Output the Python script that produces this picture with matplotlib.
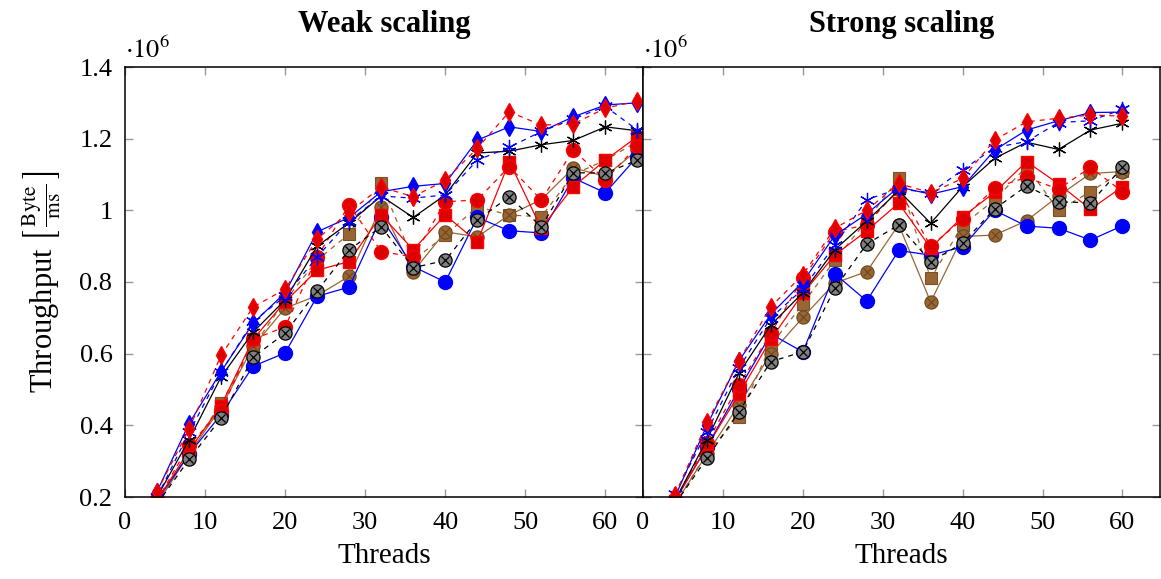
import numpy as np
import matplotlib
matplotlib.use("Agg")
import matplotlib.pyplot as plt
from matplotlib.ticker import FuncFormatter

plt.rcParams['font.family'] = ['Liberation Serif', 'DejaVu Serif']
plt.rcParams['mathtext.fontset'] = 'stix'

# thread counts
threads_weak = [4, 8, 12, 16, 20, 24, 28, 32, 36, 40, 44, 48, 52, 56, 60, 64]
threads_strong = [4, 8, 12, 16, 20, 24, 28, 32, 36, 40, 44, 48, 52, 56, 60]

# weak scaling throughput (x 1e6 Byte/ms)
weak_blue_circle = [0.19, 0.32, 0.43, 0.565, 0.602, 0.76, 0.786, 0.98, 0.843, 0.80, 0.98, 0.943, 0.937, 1.09, 1.049, 1.15]
weak_blue_diamond = [0.215, 0.405, 0.55, 0.685, 0.77, 0.94, 0.98, 1.052, 1.067, 1.075, 1.196, 1.233, 1.22, 1.261, 1.294, 1.30]
weak_blue_star = [0.2, 0.38, 0.549, 0.69, 0.76, 0.87, 0.97, 1.04, 1.034, 1.043, 1.14, 1.176, 1.22, 1.255, 1.29, 1.224]
weak_red_diamond = [0.215, 0.39, 0.595, 0.73, 0.78, 0.92, 0.995, 1.065, 1.038, 1.084, 1.173, 1.275, 1.238, 1.241, 1.285, 1.305]
weak_red_circle = [0.19, 0.345, 0.44, 0.64, 0.675, 0.87, 1.015, 0.885, 0.87, 1.024, 1.029, 1.122, 1.029, 1.168, 1.085, 1.18]
weak_red_square = [0.19, 0.33, 0.455, 0.64, 0.745, 0.833, 0.857, 0.987, 0.89, 0.987, 0.912, 1.136, 0.95, 1.066, 1.14, 1.206]
weak_black_star = [0.2, 0.36, 0.535, 0.66, 0.75, 0.9, 0.965, 1.04, 0.98, 1.043, 1.16, 1.165, 1.183, 1.195, 1.233, 1.222]
weak_gray_otimes = [0.18, 0.305, 0.42, 0.59, 0.657, 0.775, 0.89, 0.954, 0.84, 0.86, 0.973, 1.038, 0.954, 1.105, 1.104, 1.14]
weak_brown_otimes = [0.18, 0.32, 0.45, 0.62, 0.727, 0.762, 0.816, 1.01, 0.829, 0.94, 0.926, 0.987, 1.03, 1.118, 1.095, 1.168]
weak_brown_square = [0.18, 0.325, 0.462, 0.62, 0.748, 0.861, 0.934, 1.075, 0.861, 0.93, 1.01, 0.987, 0.982, 1.10, 1.14, 1.192]

# strong scaling throughput (x 1e6 Byte/ms)
strong_blue_circle = [0.19, 0.34, 0.5, 0.655, 0.605, 0.823, 0.747, 0.888, 0.875, 0.898, 1.0, 0.956, 0.95, 0.917, 0.957]
strong_blue_diamond = [0.2, 0.4, 0.58, 0.71, 0.8, 0.93, 0.99, 1.065, 1.045, 1.066, 1.168, 1.224, 1.25, 1.273, 1.274]
strong_blue_star = [0.208, 0.382, 0.56, 0.70, 0.78, 0.903, 1.03, 1.06, 1.049, 1.113, 1.175, 1.192, 1.245, 1.25, 1.282]
strong_red_diamond = [0.205, 0.408, 0.58, 0.731, 0.82, 0.95, 1.0, 1.075, 1.049, 1.089, 1.196, 1.247, 1.257, 1.266, 1.263]
strong_red_circle = [0.19, 0.351, 0.512, 0.657, 0.81, 0.94, 0.96, 1.06, 0.90, 0.975, 1.063, 1.092, 1.059, 1.12, 1.052]
strong_red_square = [0.19, 0.34, 0.487, 0.64, 0.768, 0.875, 0.943, 1.02, 0.895, 0.982, 1.05, 1.136, 1.074, 1.003, 1.066]
strong_black_star = [0.19, 0.36, 0.545, 0.68, 0.77, 0.89, 0.97, 1.055, 0.964, 1.066, 1.145, 1.19, 1.17, 1.224, 1.243]
strong_gray_otimes = [0.18, 0.308, 0.438, 0.578, 0.605, 0.782, 0.906, 0.959, 0.857, 0.908, 1.004, 1.068, 1.024, 1.021, 1.12]
strong_brown_otimes = [0.18, 0.32, 0.457, 0.60, 0.701, 0.797, 0.829, 0.96, 0.744, 0.927, 0.931, 0.971, 1.04, 1.103, 1.108]
strong_brown_square = [0.18, 0.323, 0.424, 0.624, 0.738, 0.861, 0.971, 1.089, 0.81, 0.959, 1.029, 1.122, 1.0, 1.052, 1.11]

RED = '#ff0000'
RED_FILL = '#dd0000'
BLUE = '#0000ff'
BROWN = '#996633'
GRAY = '#808080'

DASH = (0, (4, 4))
asterisk = (6, 2, 0)


def draw(ax, x, s):
    lw = 0.9
    ax.plot(x, s['brown_square'], color=BROWN, ls=DASH, lw=lw, marker='s', ms=9,
            mfc=BROWN, mec='#7a5229', mew=0.8)
    ax.plot(x, s['brown_otimes'], color=BROWN, ls='-', lw=lw, marker='o', ms=9.5,
            mfc=BROWN, mec='#6b4520', mew=0.8)
    ax.plot(x, s['brown_otimes'], ls='none', marker='x', ms=6, mec='#6b4520', mew=0.8)
    ax.plot(x, s['blue_circle'], color=BLUE, ls='-', lw=lw, marker='o', ms=10,
            mfc=BLUE, mec=BLUE)
    ax.plot(x, s['red_square'], color=RED, ls='-', lw=lw, marker='s', ms=9,
            mfc=RED_FILL, mec=RED)
    ax.plot(x, s['red_circle'], color=RED, ls=DASH, lw=lw, marker='o', ms=10,
            mfc=RED_FILL, mec=RED)
    ax.plot(x, s['gray_otimes'], color='black', ls=DASH, lw=lw, marker='o', ms=9.5,
            mfc=GRAY, mec='black', mew=0.9)
    ax.plot(x, s['gray_otimes'], ls='none', marker='x', ms=6, mec='black', mew=0.9)
    ax.plot(x, s['black_star'], color='black', ls='-', lw=lw, marker=asterisk, ms=10,
            mec='black', mew=0.9)
    ax.plot(x, s['blue_star'], color=BLUE, ls=DASH, lw=lw, marker=asterisk, ms=11,
            mec=BLUE, mew=0.9)
    ax.plot(x, s['blue_diamond'], color=BLUE, ls='-', lw=lw, marker='d', ms=9,
            mfc=BLUE, mec=BLUE)
    ax.plot(x, s['red_diamond'], color=RED, ls=DASH, lw=lw, marker='d', ms=9,
            mfc=RED_FILL, mec=RED)


weak = dict(blue_circle=weak_blue_circle, blue_diamond=weak_blue_diamond,
            blue_star=weak_blue_star, red_diamond=weak_red_diamond,
            red_circle=weak_red_circle, red_square=weak_red_square,
            black_star=weak_black_star, gray_otimes=weak_gray_otimes,
            brown_otimes=weak_brown_otimes, brown_square=weak_brown_square)
strong = dict(blue_circle=strong_blue_circle, blue_diamond=strong_blue_diamond,
              blue_star=strong_blue_star, red_diamond=strong_red_diamond,
              red_circle=strong_red_circle, red_square=strong_red_square,
              black_star=strong_black_star, gray_otimes=strong_gray_otimes,
              brown_otimes=strong_brown_otimes, brown_square=strong_brown_square)

fig = plt.figure(figsize=(11.61, 5.79), dpi=100)
ax1 = fig.add_axes([125 / 1161, 82 / 579, 518 / 1161, 430 / 579])
ax2 = fig.add_axes([643 / 1161, 82 / 579, 517 / 1161, 430 / 579])

fmt = FuncFormatter(lambda v, p: ('%g' % v))

for ax, x, s, title in [(ax1, threads_weak, weak, 'Weak scaling'),
                        (ax2, threads_strong, strong, 'Strong scaling')]:
    draw(ax, x, s)
    ax.set_xlim(0, 64.7)
    ax.set_ylim(0.2, 1.4)
    ax.set_xticks([0, 10, 20, 30, 40, 50, 60])
    ax.set_yticks([0.2, 0.4, 0.6, 0.8, 1.0, 1.2, 1.4])
    ax.yaxis.set_major_formatter(fmt)
    ax.tick_params(direction='in', length=6, width=1, color='#999999',
                   top=True, right=True, labelsize=19)
    ax.tick_params(axis='x', pad=11)
    ax.tick_params(axis='y', pad=9)
    for sp in ax.spines.values():
        sp.set_linewidth(1.1)
    ax.set_xlabel('Threads', fontsize=21, labelpad=6)
    ax.set_title(title, fontsize=22, fontweight='bold', pad=25)
    ax.text(0.0, 1.01, r'$\cdot 10^6$', transform=ax.transAxes, fontsize=19,
            ha='left', va='bottom')

ax2.tick_params(labelleft=False)
ax1.set_ylabel(r'Throughput $\left[\,\frac{\mathrm{Byte}}{\mathrm{ms}}\,\right]$',
               fontsize=22, labelpad=12)

fig.savefig('out.png', dpi=100)
